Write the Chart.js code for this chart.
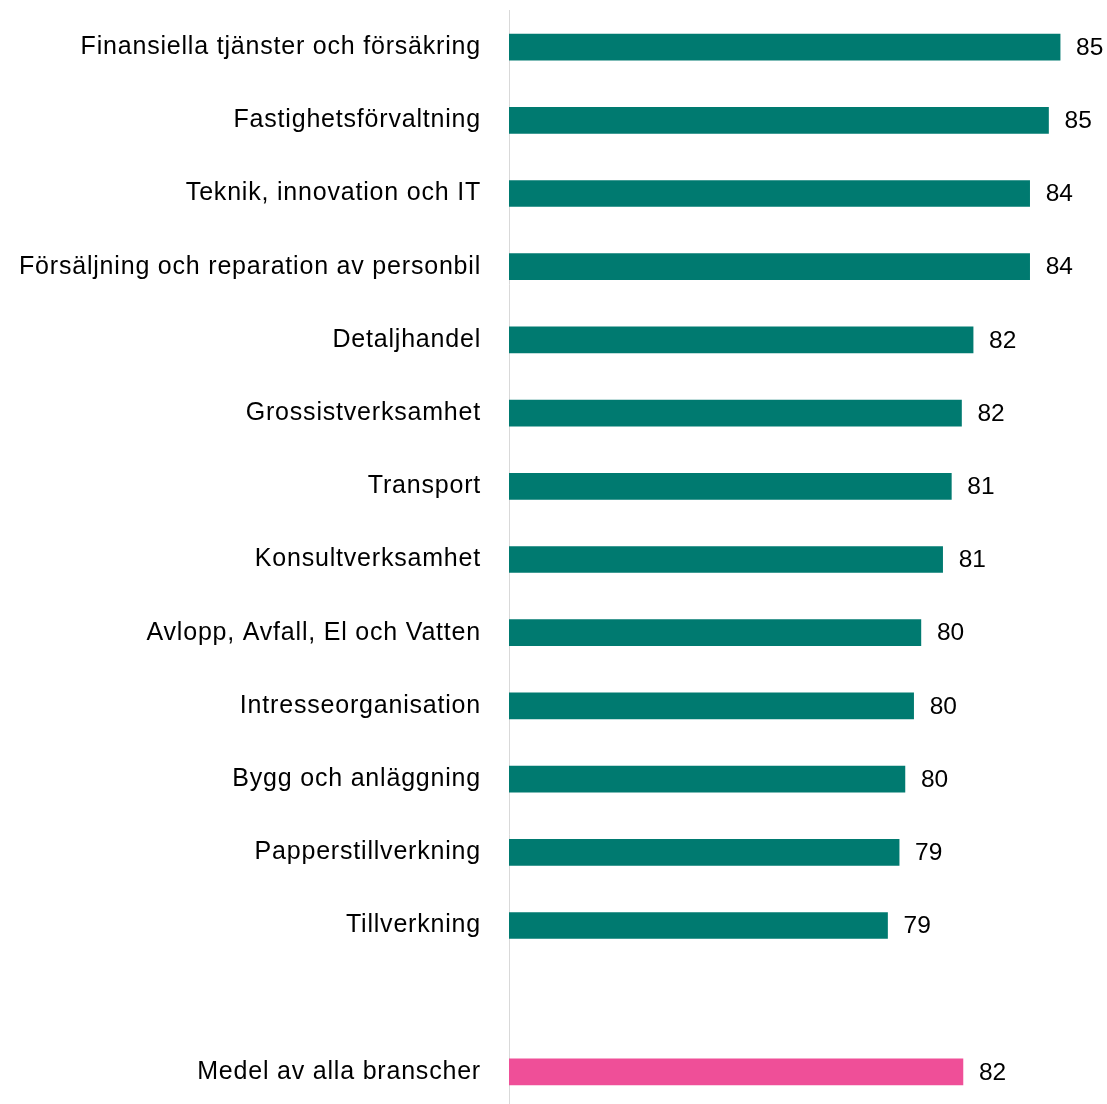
<!DOCTYPE html>
<html>
<head>
<meta charset="utf-8">
<script src="https://cdn.jsdelivr.net/npm/chart.js@4"></script>
<style>
  html, body { margin: 0; padding: 0; background: #fff; overflow: hidden; }
  #wrap { width: 1107px; height: 1119px; position: relative; }
</style>
</head>
<body>
<div id="wrap"><canvas id="myChart"></canvas></div>
<script>
const categories = [
    'Finansiella tjänster och försäkring',
    'Fastighetsförvaltning',
    'Teknik, innovation och IT',
    'Försäljning och reparation av personbil',
    'Detaljhandel',
    'Grossistverksamhet',
    'Transport',
    'Konsultverksamhet',
    'Avlopp, Avfall, El och Vatten',
    'Intresseorganisation',
    'Bygg och anläggning',
    'Papperstillverkning',
    'Tillverkning',
    '',
    'Medel av alla branscher'
];

// labels show the rounded value
const scores = [85.0, 84.6, 83.95, 83.95, 82.0, 81.6, 81.25, 80.95, 80.2, 79.95, 79.65, 79.45, 79.05, null, 81.65];

const barColors = [
    '#007a70', '#007a70', '#007a70', '#007a70', '#007a70', '#007a70', '#007a70',
    '#007a70', '#007a70', '#007a70', '#007a70', '#007a70', '#007a70', '#007a70',
    '#ef4f98'
];

const fontFamily = '"Liberation Sans", Arial, sans-serif';

// the category names are set a bit spaced out in the original
const spacing = {
    id: 'spacing',
    beforeDraw(chart) { chart.ctx.letterSpacing = '0.8px'; },
    afterDraw(chart) { chart.ctx.letterSpacing = '0px'; }
};

const valueLabels = {
    id: 'valueLabels',
    afterDatasetsDraw(chart) {
        const ctx = chart.ctx;
        const meta = chart.getDatasetMeta(0);
        ctx.save();
        ctx.letterSpacing = '0px';
        ctx.font = '24.5px ' + fontFamily;
        ctx.fillStyle = '#000';
        ctx.textAlign = 'left';
        ctx.textBaseline = 'middle';
        meta.data.forEach((bar, i) => {
            const v = scores[i];
            if (v === null) return;
            ctx.fillText(String(Math.round(v)), bar.x + 16, bar.y + 1);
        });
        ctx.restore();
    }
};

const ctx = document.getElementById('myChart').getContext('2d');

const myChart = new Chart(ctx, {
    type: 'bar',
    data: {
        labels: categories,
        datasets: [{
            data: scores,
            backgroundColor: barColors,
            barThickness: 26
        }]
    },
    options: {
        indexAxis: 'y',
        responsive: true,
        maintainAspectRatio: false,
        animation: false,
        layout: {
            padding: { top: 0, right: 6, left: 0, bottom: 0 }
        },
        plugins: {
            legend: { display: false },
            tooltip: { enabled: false }
        },
        scales: {
            x: {
                display: false,
                min: 66,
                max: 86.41
            },
            y: {
                afterFit(scale) { scale.width = 509; },
                grid: {
                    display: true,
                    drawOnChartArea: false,
                    drawTicks: true,
                    tickLength: 28,
                    tickColor: 'rgba(0,0,0,0)'
                },
                border: { display: true, color: '#d9d9d9', width: 1 },
                ticks: {
                    padding: 0,
                    color: '#000',
                    font: { family: fontFamily, size: 25, lineHeight: 0.84 }
                }
            }
        }
    },
    plugins: [spacing, valueLabels]
});
</script>
</body>
</html>
